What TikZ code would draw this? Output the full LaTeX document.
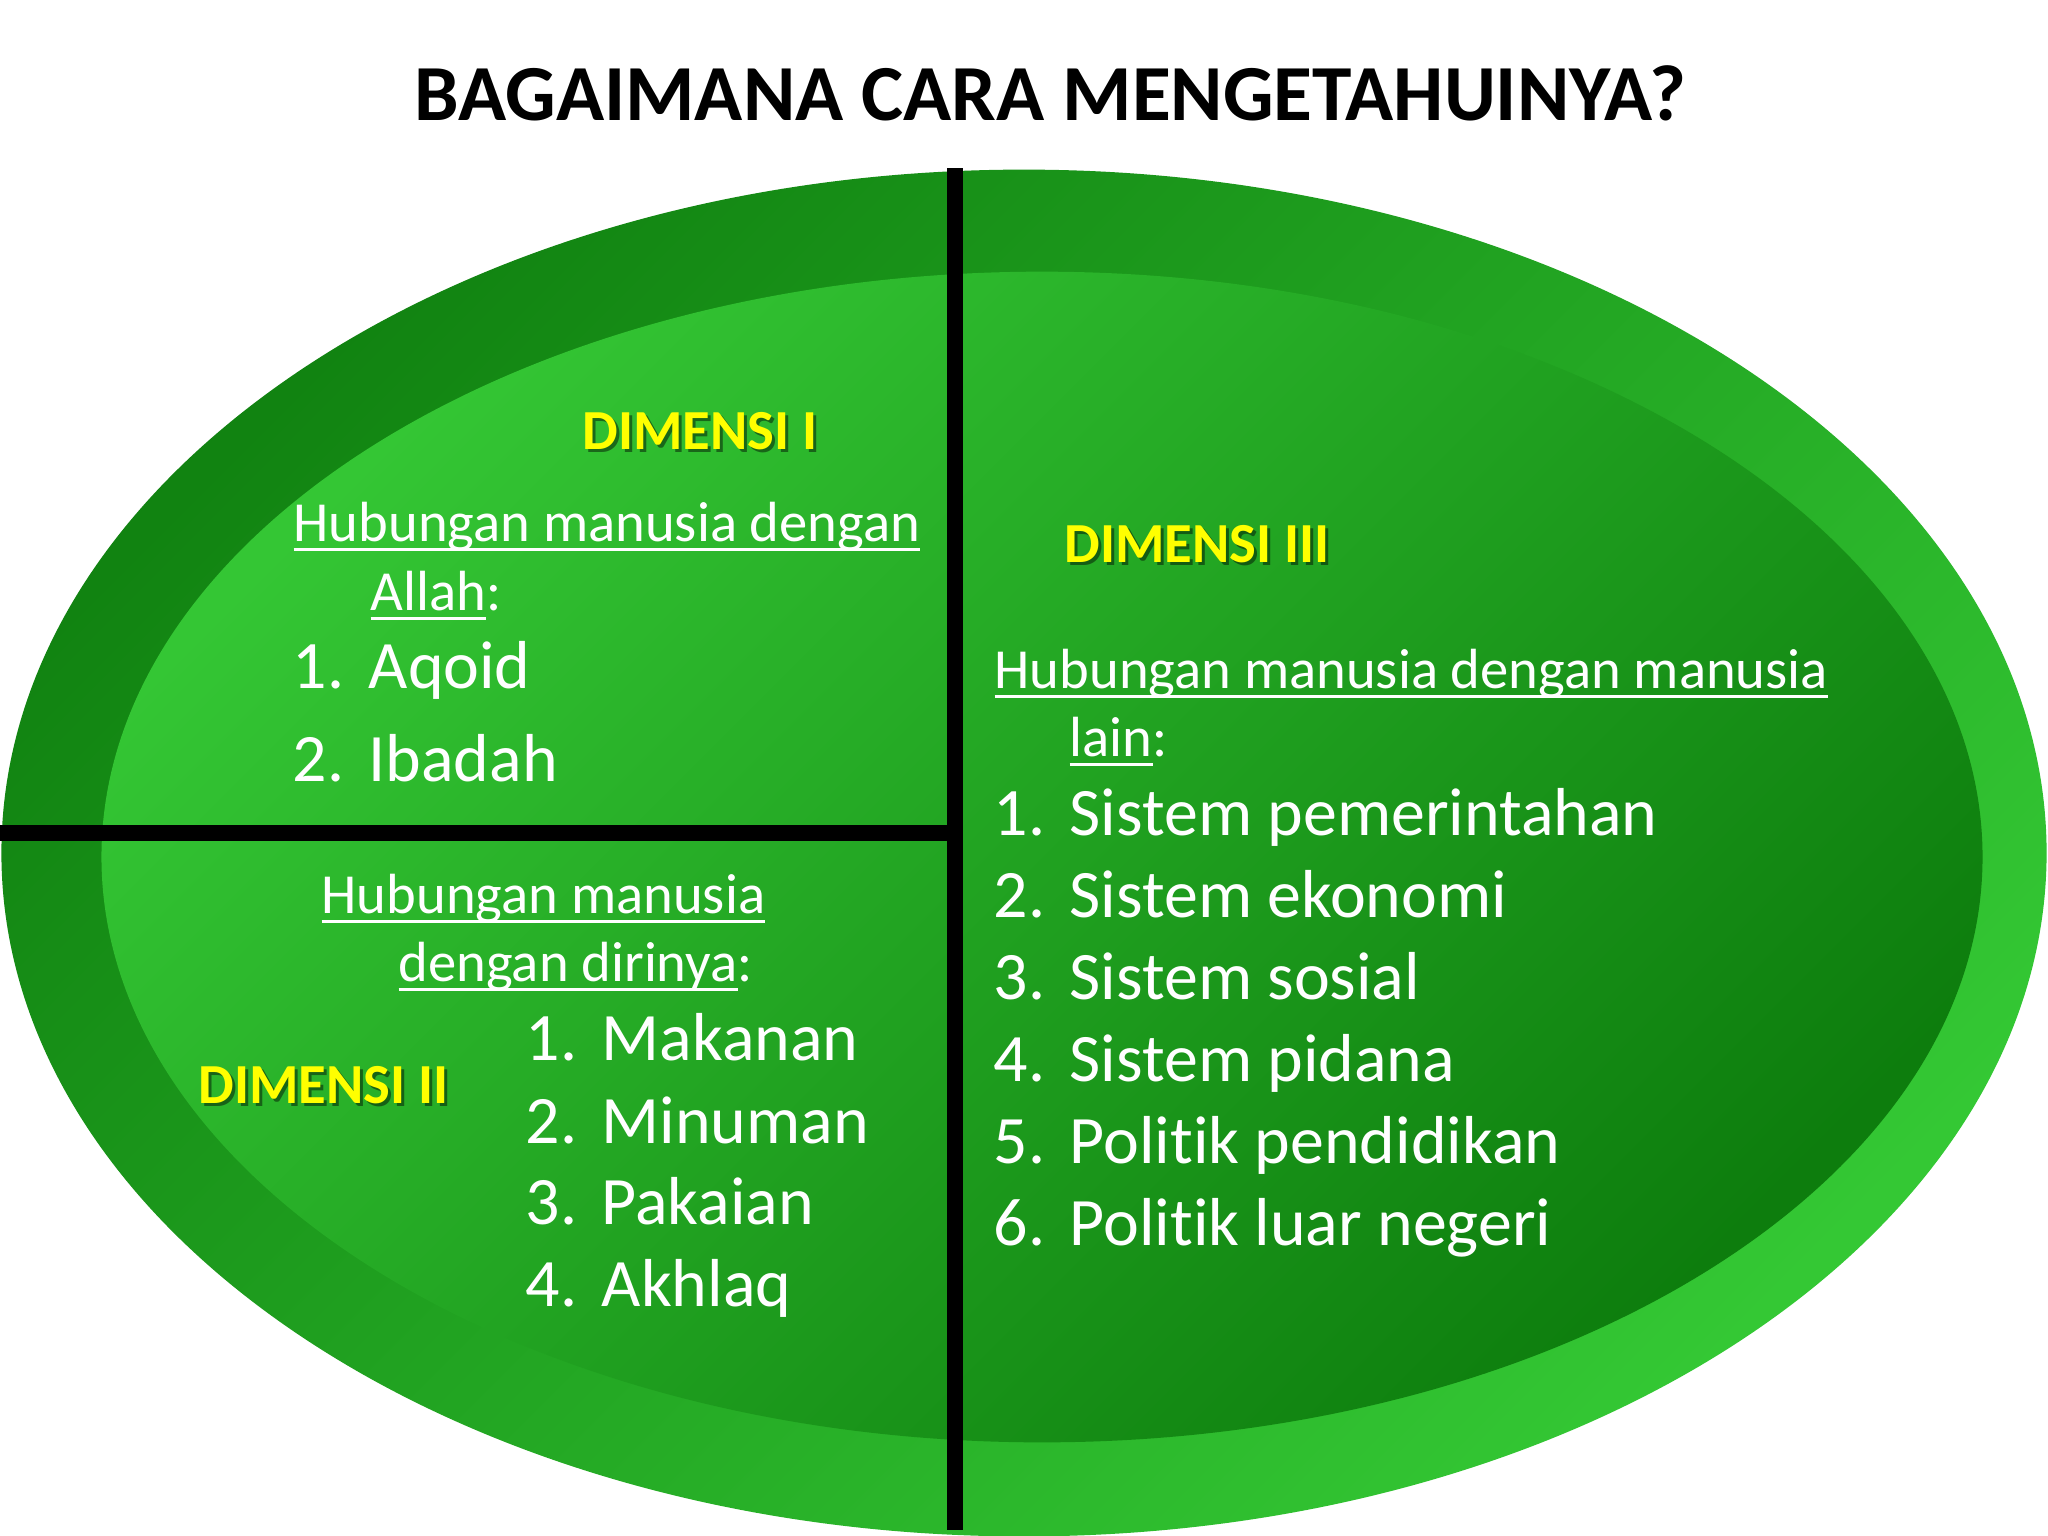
\documentclass[tikz,border=0pt]{standalone}
\usepackage{fontspec}
\setmainfont{Carlito}[Ligatures=NoCommon, RawFeature=-liga]
\definecolor{ringdark}{HTML}{118311}
\definecolor{ringbright}{HTML}{34C834}
\definecolor{innbright}{HTML}{34C634}
\definecolor{innmid}{HTML}{22A322}
\definecolor{inndark}{HTML}{0D7D0D}
\definecolor{dimyellow}{HTML}{FFFF00}
\newsavebox\ulbox
\newcommand{\ulx}[1]{\sbox\ulbox{#1}\rlap{\rule[-0.17em]{\wd\ulbox}{0.05em}}\usebox\ulbox}
\newcommand{\numit}[2]{\makebox[0.76cm][l]{#1}#2}
\tikzset{
  txt/.style={anchor=base west, inner sep=0pt, text=white},
  hdr/.style={txt, font=\fontsize{16.1}{19.4}\selectfont},
  itm/.style={txt, font=\fontsize{19.3}{23.3}\selectfont},
  dimtxt/.style={anchor=base west, inner sep=0pt, text=dimyellow, font=\fontsize{16.1}{19.4}\selectfont\bfseries},
  dimshadow/.style={anchor=base west, inner sep=0pt, text=black, text opacity=0.45, font=\fontsize{16.1}{19.4}\selectfont\bfseries},
  divider/.style={line width=4.8pt, black}
}
\begin{document}
\begin{tikzpicture}[x=0.01cm,y=-0.01cm]
\useasboundingbox[fill=white] (0,0) rectangle (2048,1536);
% ellipses
\shade[top color=ringdark, bottom color=ringbright, shading angle=45] (1024,853) ellipse [x radius=10.22cm, y radius=6.83cm];
\shade[top color=innbright, middle color=innmid, bottom color=inndark, shading angle=45] (1042,857) ellipse [x radius=9.40cm, y radius=5.85cm];
% dividers
\coordinate (vtop) at (955,168);
\coordinate (vbot) at (955,1530);
\coordinate (hleft) at (0,833);
\coordinate (hright) at (955,833);
\draw[divider] (vtop) -- (vbot);
\draw[divider] (hleft) -- (hright);
% title
\node[anchor=base, inner sep=0pt, font=\fontsize{22.6}{27}\selectfont\bfseries] (title) at (1050,120) {BAGAIMANA CARA MENGETAHUINYA?};
% Dimensi I
\node[dimshadow] (d1s) at (585,452) {DIMENSI I};
\node[dimtxt] (d1) at (582,449) {DIMENSI I};
\node[hdr] (h1a) at (293,541) {\ulx{Hubungan manusia dengan}};
\node[hdr] (h1b) at (370,610) {\ulx{Allah}:};
\node[itm] (i1a) at (292,688) {\numit{1.}{Aqoid}};
\node[itm] (i1b) at (292,781) {\numit{2.}{Ibadah}};
% Dimensi II
\node[hdr] (h2a) at (321,913) {\ulx{Hubungan manusia}};
\node[hdr] (h2b) at (398,981) {\ulx{dengan dirinya}:};
\node[itm] (i2a) at (525,1060) {\numit{1.}{Makanan}};
\node[itm] (i2b) at (525,1143) {\numit{2.}{Minuman}};
\node[itm] (i2c) at (525,1224) {\numit{3.}{Pakaian}};
\node[itm] (i2d) at (525,1306) {\numit{4.}{Akhlaq}};
\node[dimshadow] (d2s) at (201,1106) {DIMENSI II};
\node[dimtxt] (d2) at (198,1103) {DIMENSI II};
% Dimensi III
\node[dimshadow] (d3s) at (1067,565) {DIMENSI III};
\node[dimtxt] (d3) at (1064,562) {DIMENSI III};
\node[hdr] (h3a) at (994,688) {\ulx{Hubungan manusia dengan manusia}};
\node[hdr] (h3b) at (1069,756) {\ulx{lain}:};
\node[itm] (i3a) at (993,835) {\numit{1.}{Sistem pemerintahan}};
\node[itm] (i3b) at (993,917) {\numit{2.}{Sistem ekonomi}};
\node[itm] (i3c) at (993,999) {\numit{3.}{Sistem sosial}};
\node[itm] (i3d) at (993,1081) {\numit{4.}{Sistem pidana}};
\node[itm] (i3e) at (993,1163) {\numit{5.}{Polit\kern0pt ik pendidikan}};
\node[itm] (i3f) at (993,1245) {\numit{6.}{Polit\kern0pt ik luar negeri}};
\end{tikzpicture}
\end{document}
